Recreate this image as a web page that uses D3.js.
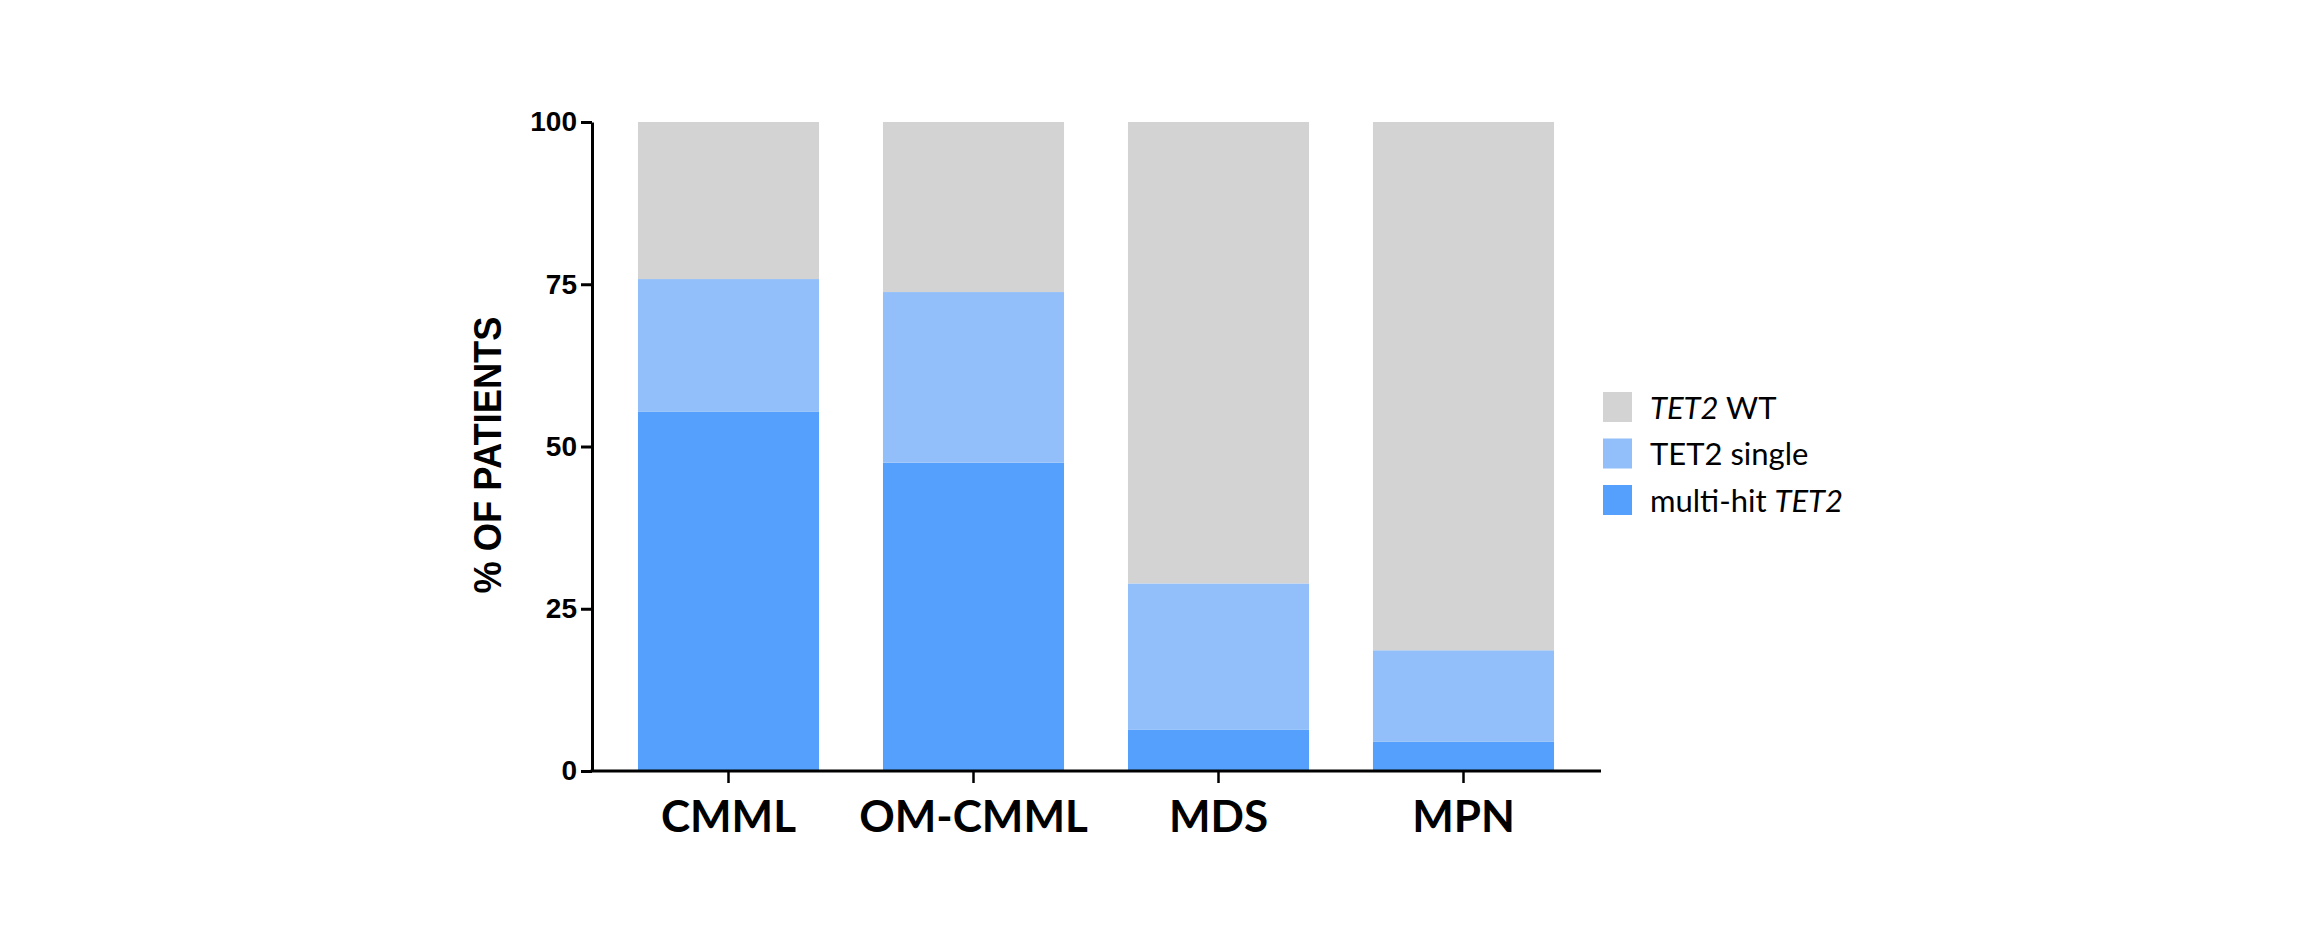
<!DOCTYPE html>
<html>
<head>
<meta charset="utf-8">
<script src="https://cdn.jsdelivr.net/npm/d3@7"></script>
<style>
  html, body { margin: 0; padding: 0; background: #ffffff; }
  svg { display: block; }
</style>
</head>
<body>
<svg id="chart" width="2301" height="945"></svg>
<script>
// ---- data ----
const categories = ["CMML", "OM-CMML", "MDS", "MPN"];
const multiHit = [55.4, 47.5, 6.4, 4.5];
const single = [20.4, 26.3, 22.5, 14.1];
const wildType = [24.2, 26.2, 71.1, 81.4];
const yTicks = [0, 25, 50, 75, 100];
const seriesKeys = ["multi", "single", "wt"];
const seriesColors = ["#55a0fc", "#92bff9", "#d3d3d3"];

// ---- layout ----
const svg = d3.select("#chart");
const x0 = 592, x1 = 1601, yTop = 122, yBot = 771;

const x = d3.scaleBand().domain(categories).range([606, 1586])
  .paddingInner(0.261).paddingOuter(0.1305);
const y = d3.scaleLinear().domain([0, 100]).range([yBot, yTop]);

const rows = categories.map((c, i) => ({ cat: c, multi: multiHit[i], single: single[i], wt: wildType[i] }));
const stacked = d3.stack().keys(seriesKeys)(rows);
const color = d3.scaleOrdinal().domain(seriesKeys).range(seriesColors);

svg.append("g").selectAll("g").data(stacked).join("g")
  .attr("fill", d => color(d.key))
  .selectAll("rect").data(d => d).join("rect")
  .attr("x", d => x(d.data.cat))
  .attr("width", x.bandwidth())
  .attr("y", d => y(Math.min(100, d[1])))
  .attr("height", d => y(d[0]) - y(Math.min(100, d[1])));

// y axis
const yAxis = svg.append("g").attr("transform", `translate(${x0},0)`)
  .call(d3.axisLeft(y).tickValues(yTicks).tickSize(11).tickPadding(4).tickSizeOuter(0));
yAxis.select(".domain").attr("stroke", "#000").attr("stroke-width", 3);
yAxis.selectAll(".tick line").attr("stroke", "#000").attr("stroke-width", 3);
yAxis.selectAll(".tick text")
  .attr("font-family", "Liberation Sans, Arial, sans-serif")
  .attr("font-weight", "bold").attr("font-size", 28).attr("fill", "#000");

// x axis
const xAxis = svg.append("g").attr("transform", `translate(0,${yBot})`);
xAxis.append("line").attr("x1", x0 - 1.5).attr("x2", x1).attr("y1", 0).attr("y2", 0)
  .attr("stroke", "#000").attr("stroke-width", 3);
const xa = svg.append("g").attr("transform", `translate(0,${yBot})`)
  .call(d3.axisBottom(x).tickSize(12).tickPadding(0).tickSizeOuter(0));
xa.select(".domain").remove();
xa.selectAll(".tick line").attr("stroke", "#000").attr("stroke-width", 2.5);
xa.selectAll(".tick text")
  .attr("font-family", "Lato, sans-serif").attr("font-weight", "bold")
  .attr("font-size", 44).attr("fill", "#000")
  .attr("dy", null).attr("y", 61);

// y title
svg.append("text")
  .attr("transform", `translate(501,455) rotate(-90)`)
  .attr("text-anchor", "middle")
  .attr("font-family", "Liberation Sans, Arial, sans-serif")
  .attr("font-weight", "bold").attr("font-size", 39)
  .attr("textLength", 277).attr("lengthAdjust", "spacingAndGlyphs")
  .text("% OF PATIENTS");

// legend
const legendItems = [
  { key: "wt", parts: [["TET2", true], [" WT", false]] },
  { key: "single", parts: [["TET2 single", false]] },
  { key: "multi", parts: [["multi-hit ", false], ["TET2", true]] }
];
const lg = svg.append("g");
legendItems.forEach((it, i) => {
  const cy = 407 + i * 46.5;
  lg.append("rect").attr("x", 1603).attr("y", cy - 15).attr("width", 29).attr("height", 30)
    .attr("fill", color(it.key));
  const t = lg.append("text").attr("x", 1650).attr("y", cy + 11.5)
    .attr("font-family", "Lato, sans-serif").attr("font-size", 31).attr("fill", "#000");
  it.parts.forEach(p => {
    t.append("tspan").attr("font-style", p[1] ? "italic" : "normal").text(p[0]);
  });
});
</script>
</body>
</html>
